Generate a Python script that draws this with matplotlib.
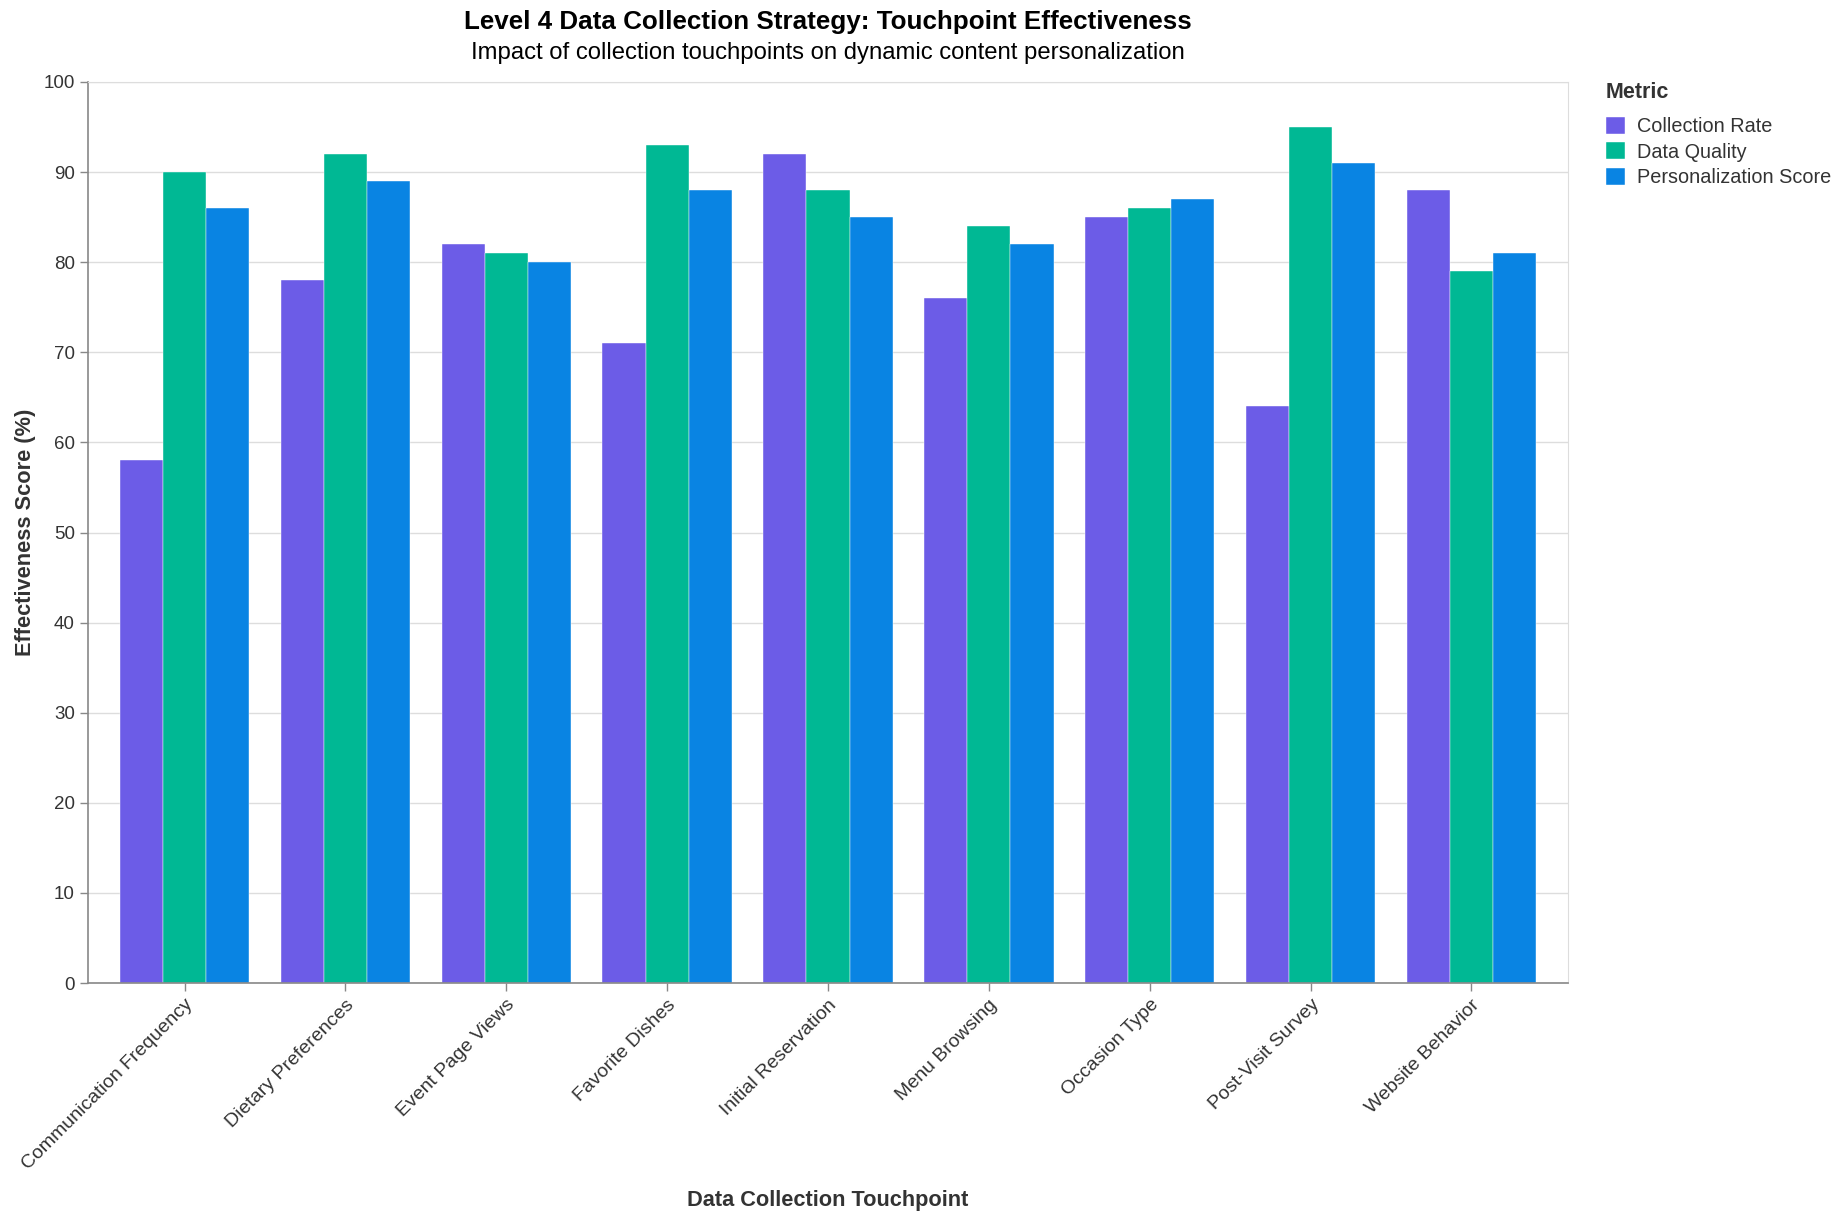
import matplotlib
matplotlib.use("Agg")
import matplotlib.pyplot as plt
import numpy as np

plt.rcParams["font.family"] = ["Liberation Sans", "DejaVu Sans"]

touchpoints = [
    "Communication Frequency", "Dietary Preferences", "Event Page Views",
    "Favorite Dishes", "Initial Reservation", "Menu Browsing",
    "Occasion Type", "Post-Visit Survey", "Website Behavior",
]
metrics = ["Collection Rate", "Data Quality", "Personalization Score"]
collection_rate = [58, 78, 82, 71, 92, 76, 85, 64, 88]
data_quality = [90, 92, 81, 93, 88, 84, 86, 95, 79]
personalization_score = [86, 89, 80, 88, 85, 82, 87, 91, 81]
colors = ["#6C5CE7", "#00B894", "#0984E3"]

W, H = 1842, 1220
fig = plt.figure(figsize=(W / 100, H / 100), dpi=100)
ax = fig.add_axes([88 / W, 1 - 983 / H, (1568 - 88) / W, (983 - 82) / H])

x = np.arange(len(touchpoints))
bw = 0.268
for i, (vals, name, c) in enumerate(zip([collection_rate, data_quality, personalization_score], metrics, colors)):
    ax.bar(x + (i - 1) * bw, vals, width=bw, color=c, label=name,
           edgecolor="white", linewidth=0.3, zorder=2)

ax.set_xlim(-0.6, len(touchpoints) - 0.4)
ax.set_ylim(0, 100)
ax.set_yticks(range(0, 101, 10))
ax.set_xticks(x)
ax.set_xticklabels(touchpoints, rotation=45, ha="right", rotation_mode="anchor",
                   fontsize=14, color="#333333")
ax.tick_params(axis="y", labelsize=13.5, labelcolor="#333333")
ax.tick_params(axis="both", color="#888888", length=6, width=1)
ax.grid(axis="y", color="#dddddd", linewidth=1, zorder=0)
ax.set_axisbelow(True)
for s in ["top", "right"]:
    ax.spines[s].set_color("#dddddd")
for s in ["left", "bottom"]:
    ax.spines[s].set_color("#888888")
    ax.spines[s].set_linewidth(1.2)

ax.set_xlabel("Data Collection Touchpoint", fontsize=15.7, fontweight="bold",
              color="#333333")
ax.set_ylabel("Effectiveness Score (%)", fontsize=15.7, fontweight="bold",
              color="#333333")
ax.xaxis.set_label_coords(0.5, -0.23)
ax.yaxis.set_label_coords(-(88 - 36) / (1568 - 88), 0.5)

fig.text(828 / W, 1 - 22 / H, "Level 4 Data Collection Strategy: Touchpoint Effectiveness",
         ha="center", va="center", fontsize=18.7, fontweight="bold", color="#000000")
fig.text(828 / W, 1 - 53 / H, "Impact of collection touchpoints on dynamic content personalization",
         ha="center", va="center", fontsize=17.2, color="#000000")

# legend title drawn separately so the gap above the entries matches
fig.text(1606 / W, 1 - 92 / H, "Metric", ha="left", va="center",
         fontsize=15.5, fontweight="bold", color="#333333")
leg = fig.legend(loc="upper left", bbox_to_anchor=(1588 / W, 1 - 99 / H), frameon=False,
                 fontsize=14.3, handlelength=0.95, handleheight=0.95,
                 handletextpad=0.6, labelspacing=0.3)
for t in leg.get_texts():
    t.set_color("#333333")

fig.savefig("out.png", dpi=100)
